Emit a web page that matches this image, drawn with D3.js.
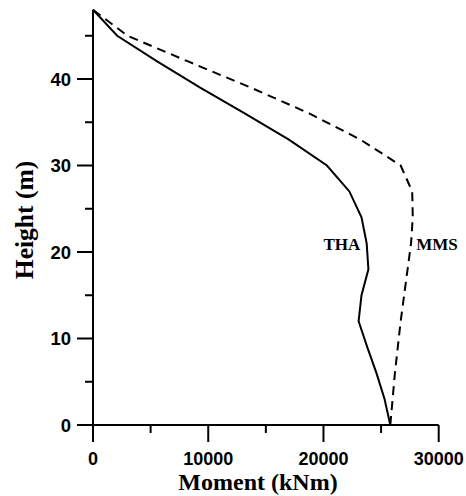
<!DOCTYPE html>
<html><head><meta charset="utf-8">
<script src="https://cdn.jsdelivr.net/npm/d3@7"></script>
<style>body{margin:0;background:#fff;} svg{display:block;}</style>
</head><body>
<svg id="c" width="466" height="496"></svg>
<script>
const heights = [0,3,6,9,12,15,18,21,24,27,30,33,36,39,42,45,48];
const thaMoment = [25800,25300,24600,23800,23050,23300,23900,23750,23300,22250,20300,17000,13200,9300,5600,2100,0];
const mmsMoment = [25800,26000,26200,26450,26700,27000,27300,27600,27750,27700,26700,23200,18800,13700,8300,3000,0];
const xMajorTicks = [0,10000,20000,30000];
const xMinorTicks = [5000,15000,25000];
const yMajorTicks = [0,10,20,30,40];
const yMinorTicks = [5,15,25,35,45];
const seriesLabels = ["THA","MMS"];

const svg = d3.select("#c");
const x = d3.scaleLinear().domain([0,30000]).range([93,438.7]);
const y = d3.scaleLinear().domain([0,40]).range([425,79]);

const sans = "'Liberation Sans', Arial, sans-serif";
const serif = "'Liberation Serif', 'Times New Roman', serif";

// axes
const xAxis = svg.append("g").attr("transform","translate(0,425)");
xAxis.append("line").attr("x1",x(0)).attr("x2",x(30000)).attr("stroke","#000").attr("stroke-width",2);
xAxis.selectAll(".maj").data(xMajorTicks).join("line")
  .attr("x1",d=>x(d)).attr("x2",d=>x(d)).attr("y1",0).attr("y2",17)
  .attr("stroke","#000").attr("stroke-width",2);
xAxis.selectAll(".min").data(xMinorTicks).join("line").attr("class","min")
  .attr("x1",d=>x(d)).attr("x2",d=>x(d)).attr("y1",0).attr("y2",8)
  .attr("stroke","#000").attr("stroke-width",2);
xAxis.selectAll("text").data(xMajorTicks).join("text")
  .attr("x",d=>x(d)).attr("y",39.5).attr("text-anchor","middle")
  .attr("font-family",sans).attr("font-weight","bold").attr("font-size",18)
  .text(d=>d);

const yAxis = svg.append("g").attr("transform","translate(93,0)");
yAxis.append("line").attr("y1",y(0)).attr("y2",y(48)).attr("stroke","#000").attr("stroke-width",2);
yAxis.selectAll(".maj").data(yMajorTicks).join("line").attr("class","maj")
  .attr("y1",d=>y(d)).attr("y2",d=>y(d)).attr("x1",-16).attr("x2",0)
  .attr("stroke","#000").attr("stroke-width",2);
yAxis.selectAll(".min").data(yMinorTicks).join("line").attr("class","min")
  .attr("y1",d=>y(d)).attr("y2",d=>y(d)).attr("x1",-8).attr("x2",0)
  .attr("stroke","#000").attr("stroke-width",2);
yAxis.selectAll("text").data(yMajorTicks).join("text")
  .attr("x",-22).attr("y",d=>y(d)).attr("dy","0.36em").attr("text-anchor","end")
  .attr("font-family",sans).attr("font-weight","bold").attr("font-size",18.5)
  .text(d=>d);

// lines
const line = d3.line().x(d=>x(d[0])).y(d=>y(d[1]));
svg.append("path").datum(heights.map((h,i)=>[thaMoment[i],h]))
  .attr("d",line).attr("fill","none").attr("stroke","#000").attr("stroke-width",2);
svg.append("path").datum(heights.map((h,i)=>[mmsMoment[i],h]))
  .attr("d",line).attr("fill","none").attr("stroke","#000").attr("stroke-width",2)
  .attr("stroke-dasharray","9,6");

// series labels
svg.append("text").attr("x",x(20000)).attr("y",y(20)-2)
  .attr("font-family",serif).attr("font-weight","bold").attr("font-size",17).text(seriesLabels[0]);
svg.append("text").attr("x",x(28050)).attr("y",y(20)-2)
  .attr("font-family",serif).attr("font-weight","bold").attr("font-size",17).text(seriesLabels[1]);

// axis titles
svg.append("text").attr("x",258).attr("y",490).attr("text-anchor","middle")
  .attr("font-family",serif).attr("font-weight","bold").attr("font-size",24).text("Moment (kNm)");
svg.append("text").attr("transform","translate(33,220) rotate(-90)").attr("text-anchor","middle")
  .attr("font-family",serif).attr("font-weight","bold").attr("font-size",25.5).text("Height (m)");
</script>
</body></html>
